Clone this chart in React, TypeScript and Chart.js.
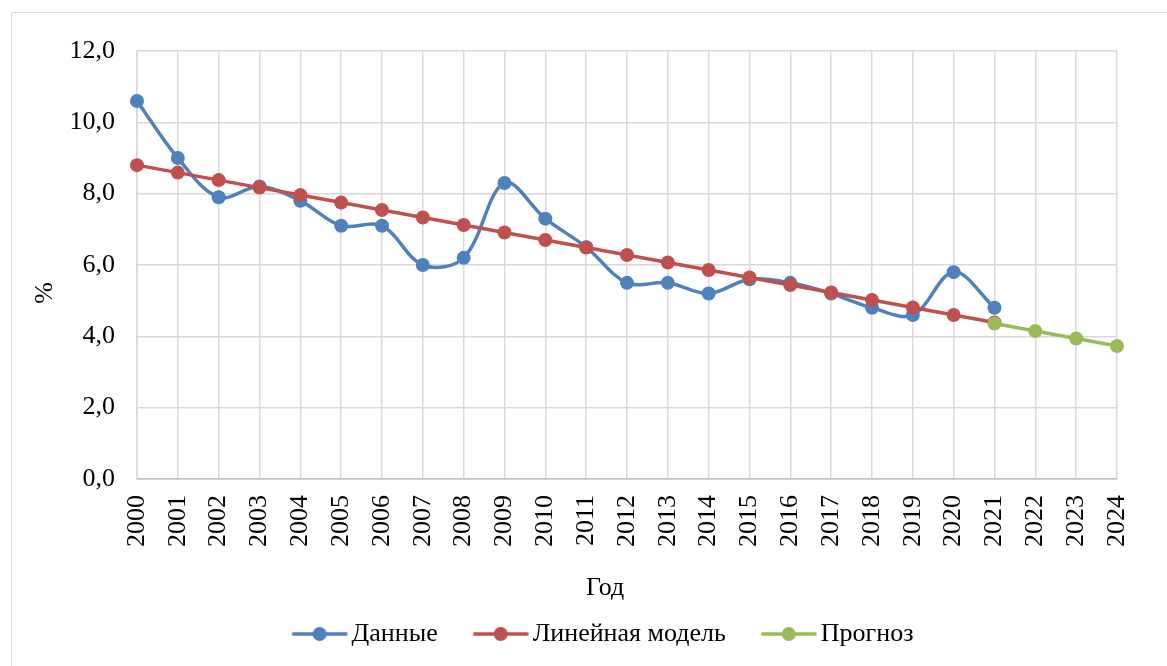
import React, { useEffect, useRef } from "react";
import { Chart, registerables } from "chart.js";

Chart.register(...registerables);

const years = [
  "2000", "2001", "2002", "2003", "2004", "2005", "2006", "2007", "2008", "2009",
  "2010", "2011", "2012", "2013", "2014", "2015", "2016", "2017", "2018", "2019",
  "2020", "2021", "2022", "2023", "2024",
];

const dataValues = [
  10.6, 9.0, 7.9, 8.2, 7.8, 7.1, 7.1, 6.0, 6.2, 8.3,
  7.3, 6.5, 5.5, 5.5, 5.2, 5.6, 5.5, 5.2, 4.8, 4.6,
  5.8, 4.8, null, null, null,
];

const linearModel = [
  8.8, 8.59, 8.38, 8.17, 7.96, 7.75, 7.54, 7.33, 7.12, 6.91,
  6.7, 6.49, 6.28, 6.07, 5.86, 5.65, 5.44, 5.23, 5.02, 4.81,
  4.6, 4.39, null, null, null,
];

const forecast = [
  null, null, null, null, null, null, null, null, null, null,
  null, null, null, null, null, null, null, null, null, null,
  null, 4.36, 4.15, 3.94, 3.73,
];

const seriesNames = ["Данные", "Линейная модель", "Прогноз"];
const seriesColors = ["#4F81BD", "#C0504D", "#9BBB59"];
const xTitle = "Год";
const yTitle = "%";

const FONT = "'Liberation Serif', 'Times New Roman', serif";
const FS = 26;

function legendIcon(color: string): HTMLCanvasElement {
  const c = document.createElement("canvas");
  c.width = 90;
  c.height = 18;
  const ctx = c.getContext("2d")!;
  ctx.strokeStyle = color;
  ctx.lineWidth = 3.5;
  ctx.beginPath();
  ctx.moveTo(34.5, 9);
  ctx.lineTo(89.5, 9);
  ctx.stroke();
  ctx.fillStyle = color;
  ctx.beginPath();
  ctx.arc(62, 9, 7, 0, Math.PI * 2);
  ctx.fill();
  return c;
}

const axisTitlePlugin = {
  id: "axisTitlesCustom",
  afterDraw(chart: any) {
    const ctx = chart.ctx;
    ctx.save();
    ctx.font = `${FS}px ${FONT}`;
    ctx.fillStyle = "#000";
    ctx.textAlign = "center";
    ctx.textBaseline = "middle";
    ctx.fillText(xTitle, 605, 588);
    ctx.translate(45, 293);
    ctx.rotate(-Math.PI / 2);
    ctx.fillText(yTitle, 0, 0);
    ctx.restore();
  },
};

export default function App() {
  const canvasRef = useRef<HTMLCanvasElement | null>(null);

  useEffect(() => {
    if (!canvasRef.current) return;
    const icons = seriesColors.map((c) => legendIcon(c));
    const mk = (i: number, values: (number | null)[], tension: number, order: number) => ({
      label: seriesNames[i],
      data: values,
      borderColor: seriesColors[i],
      backgroundColor: seriesColors[i],
      pointBackgroundColor: seriesColors[i],
      pointBorderColor: seriesColors[i],
      borderWidth: 3.5,
      pointRadius: 7,
      pointHoverRadius: 7,
      pointBorderWidth: 0,
      tension,
      spanGaps: false,
      clip: false as const,
      order,
    });

    const chart = new Chart(canvasRef.current, {
      type: "line",
      data: {
        labels: years,
        datasets: [
          mk(0, dataValues, 0.35, 2),
          mk(1, linearModel, 0, 1),
          mk(2, forecast, 0, 0),
        ],
      },
      options: {
        animation: false,
        responsive: false,
        maintainAspectRatio: false,
        layout: { padding: { left: 63, right: 50, top: 51, bottom: 9 } },
        plugins: {
          tooltip: { enabled: false },
          legend: {
            position: "bottom",
            labels: {
              usePointStyle: true,
              pointStyleWidth: 72,
              padding: 10,
              color: "#000",
              font: { family: FONT, size: FS },
              sort: (a: any, b: any) => a.datasetIndex - b.datasetIndex,
              generateLabels: (ch: any) => {
                const items = (Chart.defaults.plugins.legend.labels as any).generateLabels(ch);
                items.forEach((it: any) => {
                  it.pointStyle = icons[it.datasetIndex];
                });
                return items;
              },
            },
          },
        },
        scales: {
          x: {
            offset: false,
            grid: { color: "#d9d9d9", lineWidth: 1.5, drawTicks: false, offset: false },
            border: { color: "#bfbfbf", width: 1.5 },
            ticks: {
              color: "#000",
              font: { family: FONT, size: FS },
              minRotation: 90,
              maxRotation: 90,
              padding: 16,
              autoSkip: false,
            },
            afterFit: (s: any) => {
              s.height = 132;
            },
          },
          y: {
            min: 0,
            max: 12,
            grid: { color: "#d9d9d9", lineWidth: 1.5, drawTicks: false },
            border: { color: "#d9d9d9", width: 1.5 },
            ticks: {
              stepSize: 2,
              color: "#000",
              padding: 22,
              font: { family: FONT, size: FS },
              callback: (v: any) => Number(v).toFixed(1).replace(".", ","),
            },
            afterFit: (s: any) => {
              s.width = 74;
            },
          },
        },
      },
      plugins: [axisTitlePlugin],
    });
    return () => chart.destroy();
  }, []);

  return (
    <div
      style={{
        position: "fixed",
        left: 0,
        top: 0,
        width: 1167,
        height: 666,
        overflow: "hidden",
        background: "#fff",
      }}
    >
      <div
        style={{
          position: "absolute",
          left: 11,
          top: 12,
          width: 1200,
          height: 700,
          border: "1.5px solid #d9d9d9",
        }}
      />
      <canvas
        ref={canvasRef}
        width={1167}
        height={666}
        style={{ position: "absolute", left: 0, top: 0, width: 1167, height: 666 }}
      />
    </div>
  );
}
